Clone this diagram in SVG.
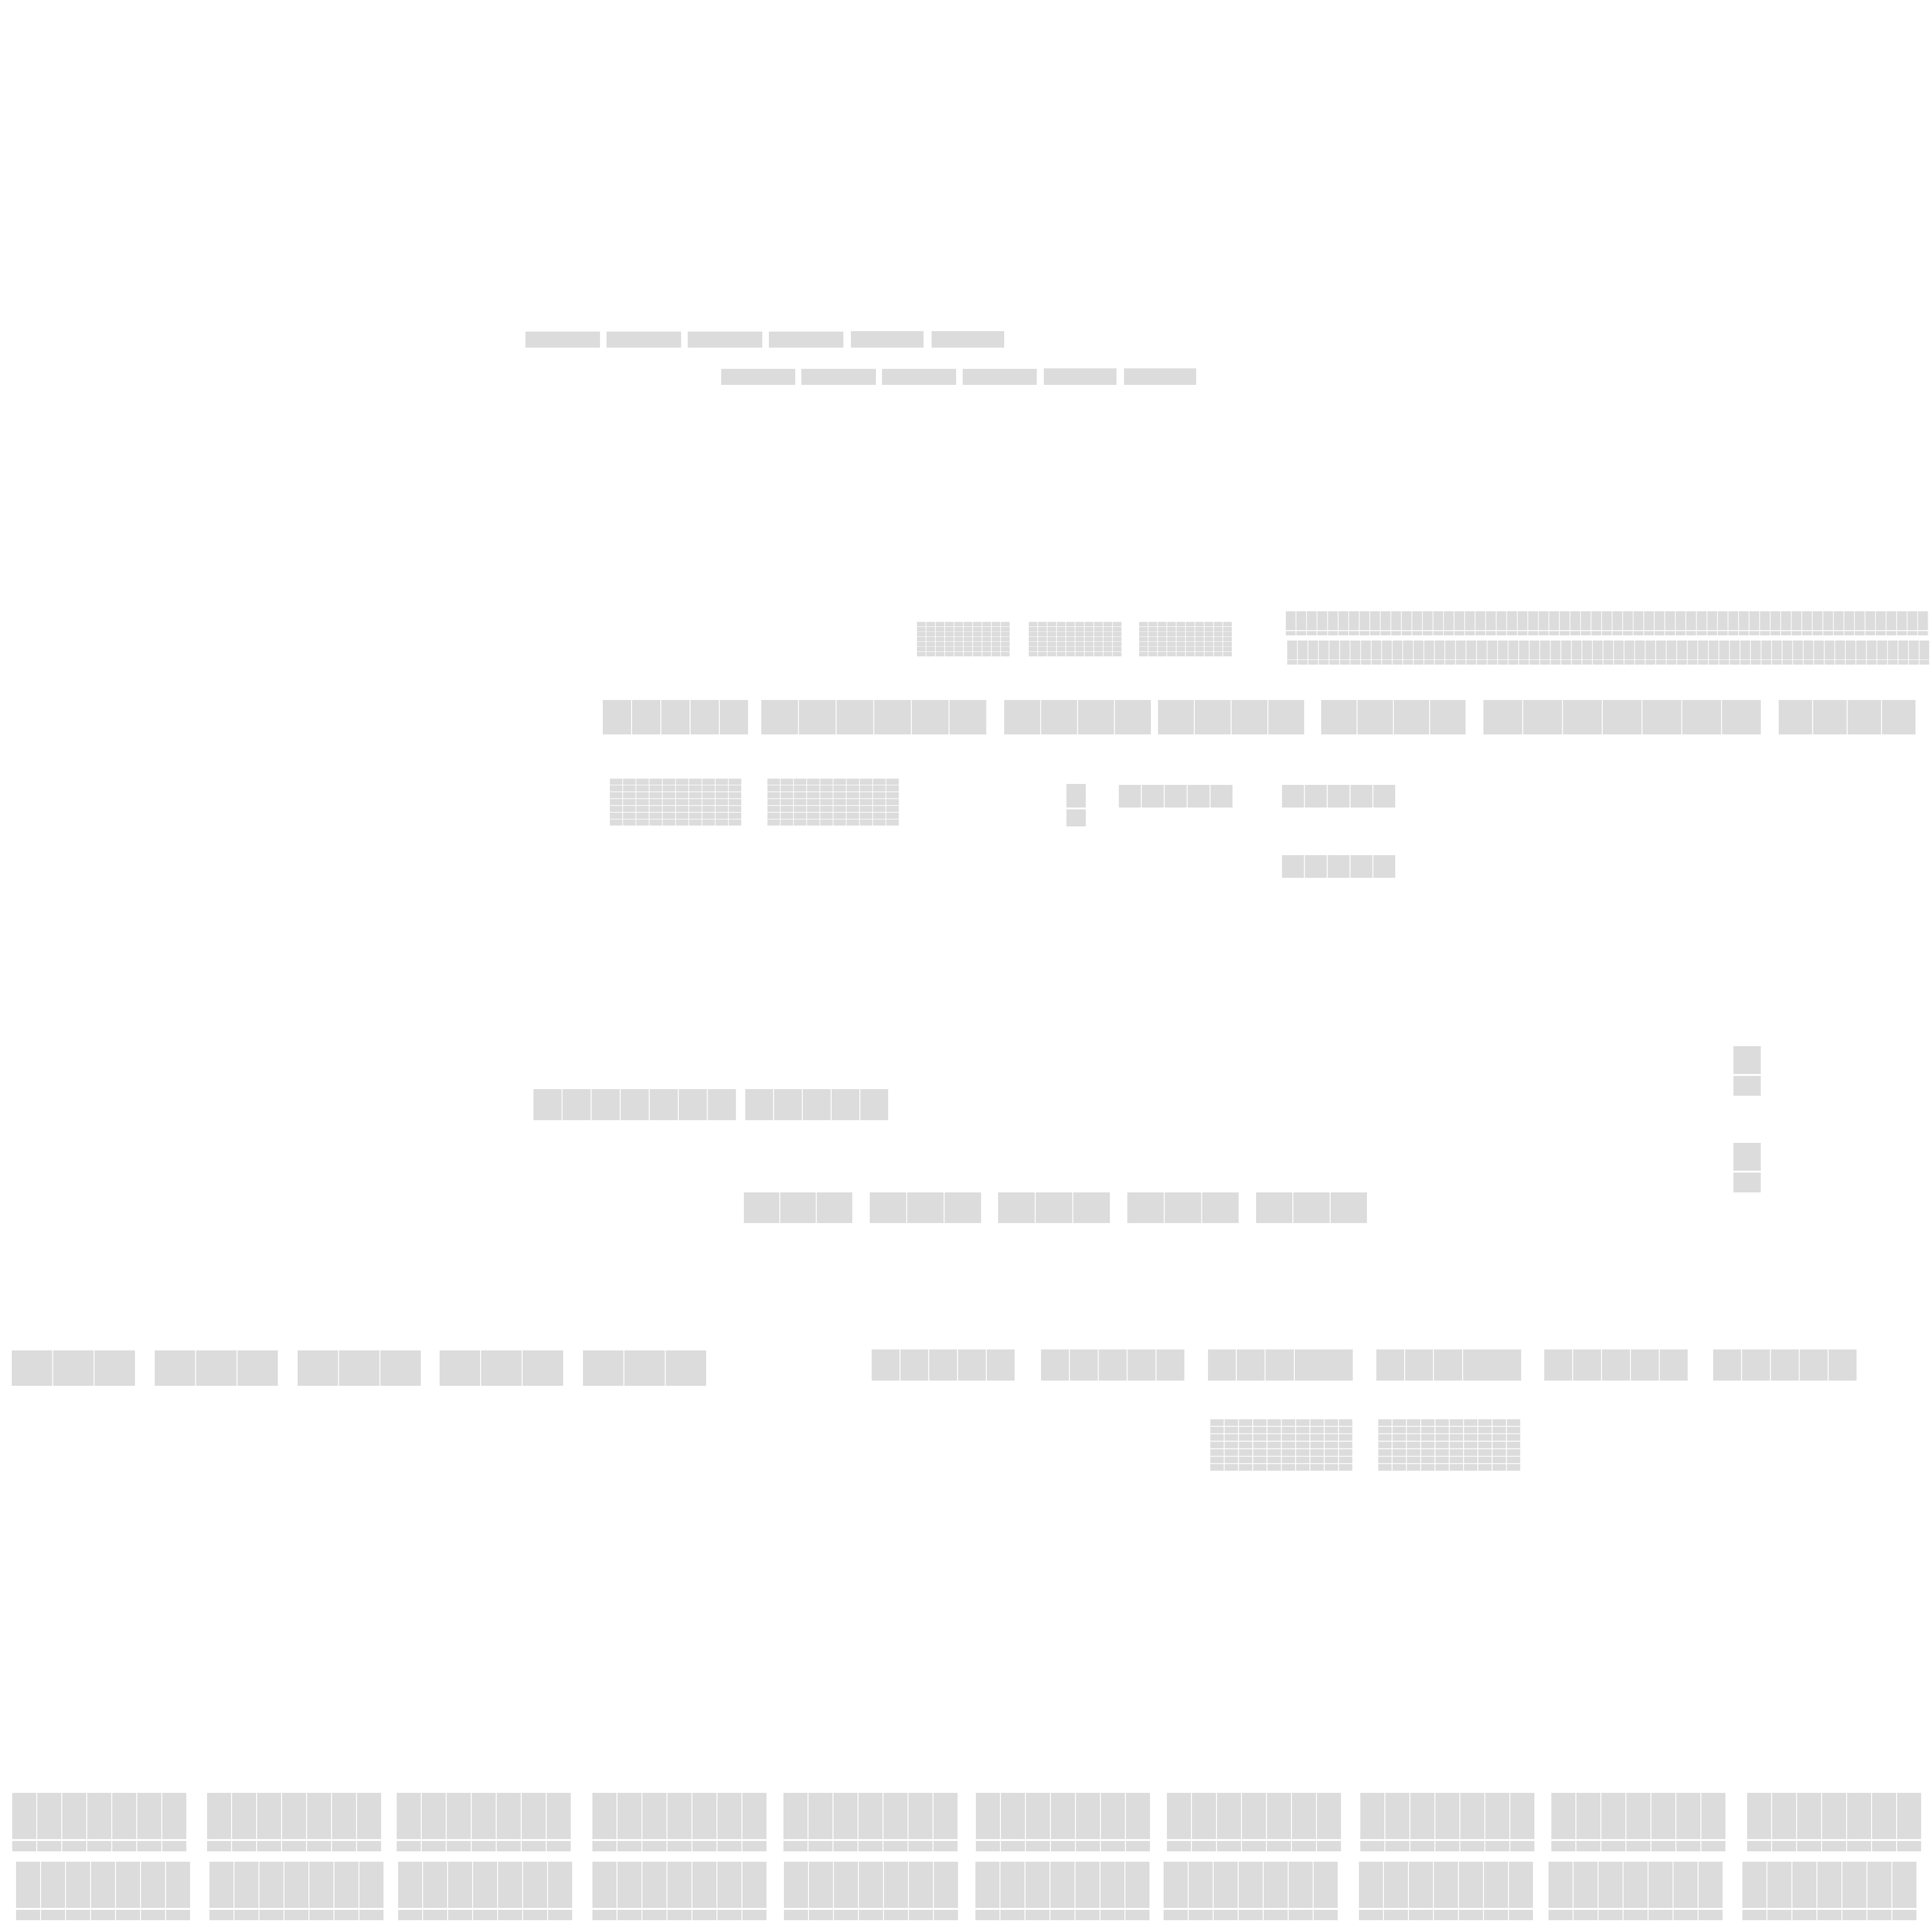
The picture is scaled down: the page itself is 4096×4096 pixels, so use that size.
<svg xmlns="http://www.w3.org/2000/svg" width="4096" height="4096" viewBox="0 0 4096 4096">
<style>
.b{fill:#dbdcdb}
.s{fill:none;stroke:#dbdcdb;stroke-linecap:butt}
</style>
<defs>
<g id="gridA"><path class="s" stroke-width="9.6" stroke-dasharray="18.4 1.4" d="M0 5.3h198M0 15.9h198M0 26.4h198M0 37h198M0 47.6h198M0 58.1h198M0 68.7h198"/></g>
<g id="gridB"><path class="s" stroke-width="13" stroke-dasharray="26.5 1.5" d="M0 7.2h280M0 21.6h280M0 36.1h280M0 50.5h280M0 64.9h280M0 79.4h280M0 93.8h280"/></g>
<g id="gridC"><path class="s" stroke-width="14" stroke-dasharray="28.4 1.9" d="M0 7.9h303M0 23.8h303M0 39.6h303M0 55.5h303M0 71.4h303M0 87.2h303M0 103.1h303"/></g>
<g id="blockD"><path class="s" stroke-width="98" stroke-dasharray="51 2" d="M0 49h371"/><path class="s" stroke-width="22" stroke-dasharray="51 2" d="M0 113h371"/></g>
</defs>
<rect width="4096" height="4096" fill="#ffffff"/>
<g id="connectors"/>
<g id="top-row-1">
<rect class="b" x="1114" y="703" width="158" height="34"/>
<rect class="b" x="1286" y="703" width="158" height="34"/>
<rect class="b" x="1458" y="703" width="158" height="34"/>
<rect class="b" x="1630" y="703" width="158" height="34"/>
<rect class="b" x="1804" y="702" width="154" height="35"/>
<rect class="b" x="1975" y="702" width="154" height="35"/>
</g>
<g id="top-row-2">
<rect class="b" x="1529" y="782" width="157" height="34"/>
<rect class="b" x="1699" y="782" width="158" height="34"/>
<rect class="b" x="1870" y="782" width="157" height="34"/>
<rect class="b" x="2041" y="782" width="157" height="34"/>
<rect class="b" x="2213" y="781" width="154" height="35"/>
<rect class="b" x="2383" y="781" width="153" height="35"/>
</g>
<g id="grids-1">
<use href="#gridA" x="1944" y="1318"/>
<use href="#gridA" x="2181" y="1318"/>
<use href="#gridA" x="2415" y="1318"/>
</g>
<g id="long-rows">
<path class="s" stroke-width="40" stroke-dasharray="20.8 1.54" d="M2726 1316h1363"/>
<path class="s" stroke-width="9" stroke-dasharray="20.8 1.54" d="M2726 1342.5h1363"/>
<path class="s" stroke-width="40" stroke-dasharray="20.8 1.54" d="M2729 1378h1361"/>
<path class="s" stroke-width="10" stroke-dasharray="20.8 1.54" d="M2729 1404h1361"/>
</g>
<g id="header-row">
<path class="s" stroke-width="73" stroke-dasharray="60 2" d="M1278 1520.5h310"/>
<path class="s" stroke-width="73" stroke-dasharray="77.8 2" d="M1614 1520.5h479"/>
<path class="s" stroke-width="73" stroke-dasharray="76.25 2" d="M2129 1520.5h313"/>
<path class="s" stroke-width="73" stroke-dasharray="76 2" d="M2455 1520.5h312"/>
<path class="s" stroke-width="73" stroke-dasharray="75 2" d="M2801 1520.5h308"/>
<path class="s" stroke-width="73" stroke-dasharray="82.3 2" d="M3145 1520.5h590"/>
<path class="s" stroke-width="73" stroke-dasharray="71 2" d="M3771 1520.5h292"/>
</g>
<g id="grids-2">
<use href="#gridB" x="1293" y="1650"/>
<use href="#gridB" x="1627" y="1650"/>
</g>
<g id="small-stack-1">
<rect class="b" x="2261" y="1662" width="41" height="50"/>
<rect class="b" x="2261" y="1716" width="41" height="36"/>
</g>
<g id="five-cell-1">
<path class="s" stroke-width="48" stroke-dasharray="46.6 2" d="M2372 1688h243"/>
</g>
<g id="five-cell-2">
<path class="s" stroke-width="48" stroke-dasharray="46.4 2" d="M2718 1688h242"/>
</g>
<g id="five-cell-3">
<path class="s" stroke-width="48" stroke-dasharray="46.4 2" d="M2718 1837h242"/>
</g>
<g id="small-stack-right">
<rect class="b" x="3675" y="2218" width="58" height="59"/>
<rect class="b" x="3675" y="2281" width="58" height="42"/>
<rect class="b" x="3675" y="2423" width="58" height="59"/>
<rect class="b" x="3675" y="2486" width="58" height="42"/>
</g>
<g id="mid-title">
<path class="s" stroke-width="66" stroke-dasharray="59.6 2" d="M1131 2342h431"/>
<path class="s" stroke-width="66" stroke-dasharray="59 2" d="M1580 2342h305"/>
</g>
<g id="mid-row">
<path class="s" stroke-width="65" stroke-dasharray="75.3 2" d="M1577 2560.5h232"/>
<path class="s" stroke-width="65" stroke-dasharray="77.3 2" d="M1844 2560.5h238"/>
<path class="s" stroke-width="65" stroke-dasharray="77.7 2" d="M2116 2560.5h239"/>
<path class="s" stroke-width="65" stroke-dasharray="77.3 2" d="M2390 2560.5h238"/>
<path class="s" stroke-width="65" stroke-dasharray="77 2" d="M2663 2560.5h237"/>
</g>
<g id="left-row">
<path class="s" stroke-width="75" stroke-dasharray="85.7 2" d="M25 2900.5h263"/>
<path class="s" stroke-width="75" stroke-dasharray="85.7 2" d="M328 2900.5h263"/>
<path class="s" stroke-width="75" stroke-dasharray="85.7 2" d="M631 2900.5h263"/>
<path class="s" stroke-width="75" stroke-dasharray="86 2" d="M932 2900.5h264"/>
<path class="s" stroke-width="75" stroke-dasharray="85.7 2" d="M1236 2900.5h263"/>
</g>
<g id="right-row">
<path class="s" stroke-width="66" stroke-dasharray="59 2" d="M1848 2894h305"/>
<path class="s" stroke-width="66" stroke-dasharray="59.2 2" d="M2207 2894h306"/>
<path class="s" stroke-width="66" stroke-dasharray="59 2 59 2 60 2 123 2" d="M2561 2894h307"/>
<path class="s" stroke-width="66" stroke-dasharray="59 2 59 2 60 2 123 2" d="M2918 2894h307"/>
<path class="s" stroke-width="66" stroke-dasharray="59.2 2" d="M3274 2894h306"/>
<path class="s" stroke-width="66" stroke-dasharray="59.2 2" d="M3632 2894h306"/>
</g>
<g id="grids-3">
<use href="#gridC" x="2566" y="3008"/>
<use href="#gridC" x="2922" y="3008"/>
</g>
<g id="bottom-row-1">
<use href="#blockD" x="26" y="3801"/>
<use href="#blockD" x="439" y="3801"/>
<use href="#blockD" x="841" y="3801"/>
<use href="#blockD" x="1256" y="3801"/>
<use href="#blockD" x="1661" y="3801"/>
<use href="#blockD" x="2069" y="3801"/>
<use href="#blockD" x="2474" y="3801"/>
<use href="#blockD" x="2884" y="3801"/>
<use href="#blockD" x="3289" y="3801"/>
<use href="#blockD" x="3704" y="3801"/>
</g>
<g id="bottom-row-2">
<use href="#blockD" x="34" y="3947"/>
<use href="#blockD" x="444" y="3947"/>
<use href="#blockD" x="844" y="3947"/>
<use href="#blockD" x="1256" y="3947"/>
<use href="#blockD" x="1662" y="3947"/>
<use href="#blockD" x="2068" y="3947"/>
<use href="#blockD" x="2467" y="3947"/>
<use href="#blockD" x="2881" y="3947"/>
<use href="#blockD" x="3283" y="3947"/>
<use href="#blockD" x="3694" y="3947"/>
</g>
</svg>
